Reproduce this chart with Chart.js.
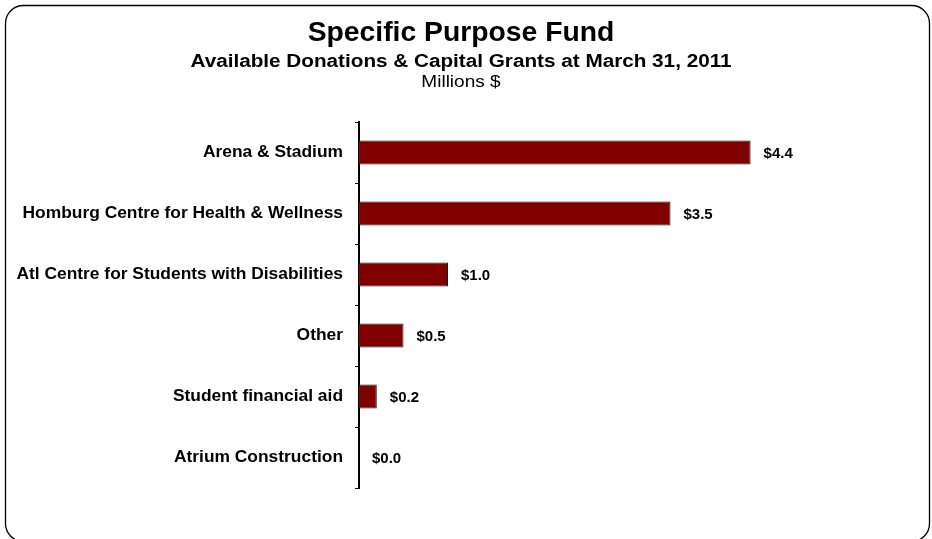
<!DOCTYPE html>
<html>
<head>
<meta charset="utf-8">
<title>Specific Purpose Fund</title>
<script src="https://cdn.jsdelivr.net/npm/chart.js@4/dist/chart.umd.min.js"></script>
<style>
  html, body { margin: 0; padding: 0; background: #ffffff; }
  canvas { display: block; }
</style>
</head>
<body>
<canvas id="fund" width="932" height="539"></canvas>
<script>
// Fund categories and available amounts (millions of dollars)
const categories = [
  'Arena & Stadium',
  'Homburg Centre for Health & Wellness',
  'Atl Centre for Students with Disabilities',
  'Other',
  'Student financial aid',
  'Atrium Construction'
];
const amounts = [4.4, 3.5, 1.0, 0.5, 0.2, 0.0];
const amountLabels = ['$4.4', '$3.5', '$1.0', '$0.5', '$0.2', '$0.0'];
const headingLines = [
  'Specific Purpose Fund',
  'Available Donations & Capital Grants at March 31, 2011',
  'Millions $'
];

const FONT = '"Liberation Sans", Arial, Helvetica, sans-serif';

// Rounded frame around the whole chart
const framePlugin = {
  id: 'frame',
  beforeDraw(chart) {
    const ctx = chart.ctx;
    ctx.save();
    ctx.fillStyle = '#ffffff';
    ctx.fillRect(0, 0, chart.width, chart.height);
    ctx.beginPath();
    ctx.roundRect(5.5, 5.5, 924, 536, 18);
    ctx.lineWidth = 1.3;
    ctx.strokeStyle = '#000000';
    ctx.stroke();
    ctx.restore();
  }
};

// Three-line heading: title, subtitle and unit line
const headingPlugin = {
  id: 'heading',
  afterDraw(chart) {
    const ctx = chart.ctx;
    const cx = 461;
    const rows = [
      { text: headingLines[0], font: 'bold 28.3px ' + FONT, y: 41, sx: 1.0 },
      { text: headingLines[1], font: 'bold 18px ' + FONT, y: 67, sx: 1.15 },
      { text: headingLines[2], font: '17px ' + FONT, y: 87, sx: 1.12 }
    ];
    ctx.save();
    ctx.fillStyle = '#000000';
    ctx.textAlign = 'center';
    ctx.textBaseline = 'alphabetic';
    rows.forEach(r => {
      ctx.save();
      ctx.font = r.font;
      ctx.translate(cx, r.y);
      ctx.scale(r.sx, 1);
      ctx.fillText(r.text, 0, 0);
      ctx.restore();
    });
    ctx.restore();
  }
};

// Dollar amount written just past the end of each bar
const amountLabelPlugin = {
  id: 'amountLabels',
  afterDatasetsDraw(chart) {
    const ctx = chart.ctx;
    const meta = chart.getDatasetMeta(0);
    ctx.save();
    ctx.font = 'bold 15px ' + FONT;
    ctx.fillStyle = '#000000';
    ctx.textAlign = 'left';
    ctx.textBaseline = 'middle';
    meta.data.forEach((bar, i) => {
      ctx.fillText(amountLabels[i], bar.x + 13, bar.y + 1);
    });
    ctx.restore();
  }
};

new Chart(document.getElementById('fund'), {
  type: 'bar',
  data: {
    labels: categories,
    datasets: [{
      data: amounts,
      backgroundColor: '#800000',
      borderColor: '#1a1a1a',
      borderWidth: 1,
      borderSkipped: 'start',
      categoryPercentage: 1.0,
      barPercentage: 0.395
    }]
  },
  options: {
    indexAxis: 'y',
    responsive: false,
    devicePixelRatio: 1,
    animation: false,
    layout: { padding: { top: 122, bottom: 51, left: 0, right: 128 } },
    plugins: {
      legend: { display: false },
      tooltip: { enabled: false },
      title: { display: false }
    },
    scales: {
      x: {
        display: false,
        min: 0,
        max: 5
      },
      y: {
        position: 'left',
        grid: {
          offset: true,
          drawOnChartArea: false,
          drawTicks: true,
          tickLength: 4,
          color: '#000000',
          lineWidth: 1
        },
        border: { display: true, color: '#000000', width: 2 },
        ticks: {
          color: '#000000',
          padding: 12,
          font: { family: FONT, size: 17.4, weight: 'bold' }
        },
        afterFit(scale) { scale.width = 359; }
      }
    }
  },
  plugins: [framePlugin, headingPlugin, amountLabelPlugin]
});
</script>
</body>
</html>
